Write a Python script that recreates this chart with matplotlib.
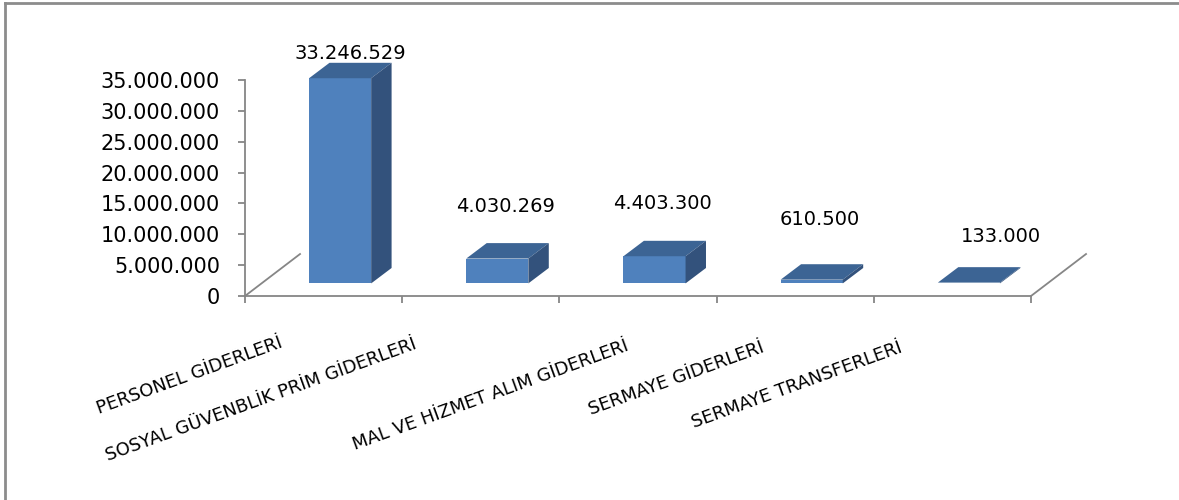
import matplotlib
matplotlib.use("Agg")
import matplotlib.pyplot as plt
from matplotlib.patches import Polygon
from matplotlib.lines import Line2D
import matplotlib.ticker as mticker

# --- Data ---
categories = ["PERSONEL GİDERLERİ", "SOSYAL GÜVENBLİK PRİM GİDERLERİ",
              "MAL VE HİZMET ALIM GİDERLERİ", "SERMAYE GİDERLERİ",
              "SERMAYE TRANSFERLERİ"]
values = [33246529, 4030269, 4403300, 610500, 133000]
value_labels = ["33.246.529", "4.030.269", "4.403.300", "610.500", "133.000"]
y_ticks = [0, 5000000, 10000000, 15000000, 20000000, 25000000, 30000000, 35000000]

# --- Style ---
FRONT = "#4F81BD"
TOP = "#3C6494"
SIDE = "#33527C"
AXIS = "#868686"
BORDER = "#8C8C8C"

W, H, DPI = 1179, 500, 100
YMAX = 35000000

# 3D look (x in category units, y in value units)
floor_dx, floor_dy = 0.35, 6.8e6      # full floor depth
bar_off_x, bar_off_y = 0.105, 2.04e6  # front face of bars sits this deep
bar_dx, bar_dy = 0.13, 2.5e6          # bar depth
bar_w = 0.395

# text placement in pixels
label_pad = [(0, 4), (-2, 31), (-2, 32), (-2, 39), (22, 25)]
cat_pad = [(-40, 51), (-63, 52), (-8, 54), (-30, 56), (-49, 56)]

fig = plt.figure(figsize=(W / DPI, H / DPI), dpi=DPI)
ax = fig.add_axes([245 / W, (H - 296) / H, (1031 - 245) / W, 216 / H])

n = len(values)
ax.set_xlim(-0.5, n - 0.5)
ax.set_ylim(0, YMAX)

for s in ["top", "right"]:
    ax.spines[s].set_visible(False)
for s in ["left", "bottom"]:
    ax.spines[s].set_color(AXIS)
    ax.spines[s].set_linewidth(1.3)

ax.set_yticks(y_ticks)
ax.yaxis.set_major_formatter(mticker.FuncFormatter(
    lambda v, p: "0" if v == 0 else f"{int(v):,}".replace(",", ".")))
ax.tick_params(axis="y", direction="out", length=5, width=1.3, color=AXIS,
               pad=13, labelsize=15, labelcolor="#000000")
ax.set_xticks([i - 0.5 for i in range(n + 1)])
ax.set_xticklabels([])
ax.tick_params(axis="x", direction="out", length=5, width=1.3, color=AXIS)

# floor side edges
for x0 in (-0.5, n - 0.5):
    ax.add_line(Line2D([x0, x0 + floor_dx], [0, floor_dy], color=AXIS,
                       lw=1.3, clip_on=False, zorder=1))

# bars
for i, v in enumerate(values):
    xl = i - bar_w / 2 + bar_off_x
    xr = xl + bar_w
    y0 = bar_off_y
    y1 = bar_off_y + v
    ax.bar(xl, v, bottom=y0, width=bar_w, align="edge", color=FRONT,
           edgecolor="none", clip_on=False, zorder=3)
    ax.add_patch(Polygon([(xl, y1), (xr, y1), (xr + bar_dx, y1 + bar_dy),
                          (xl + bar_dx, y1 + bar_dy)], closed=True,
                         facecolor=TOP, edgecolor="none", clip_on=False, zorder=3))
    ax.add_patch(Polygon([(xr, y0), (xr + bar_dx, y0 + bar_dy),
                          (xr + bar_dx, y1 + bar_dy), (xr, y1)], closed=True,
                         facecolor=SIDE, edgecolor="none", clip_on=False, zorder=3))
    dx, dy = label_pad[i]
    ax.annotate(value_labels[i], xy=((xl + xr) / 2 + bar_dx / 2, y1 + bar_dy),
                xytext=(dx * 0.72, dy * 0.72), textcoords="offset points",
                ha="center", va="baseline", fontsize=14, color="#000000",
                annotation_clip=False)

# category labels
for i, c in enumerate(categories):
    dx, dy = cat_pad[i]
    ax.annotate(c, xy=(i, 0), xytext=(dx * 0.72, -dy * 0.72),
                textcoords="offset points", ha="right", va="baseline",
                rotation=20, rotation_mode="anchor", fontsize=13,
                color="#000000", annotation_clip=False)

# outer chart border (only top and left are visible in the crop)
fig.add_artist(Line2D([5 / W, 5 / W], [0, 1 - 3 / H], transform=fig.transFigure,
                      color=BORDER, lw=2))
fig.add_artist(Line2D([5 / W, 1], [1 - 3 / H, 1 - 3 / H], transform=fig.transFigure,
                      color=BORDER, lw=2))

fig.savefig("out.png", dpi=DPI)
